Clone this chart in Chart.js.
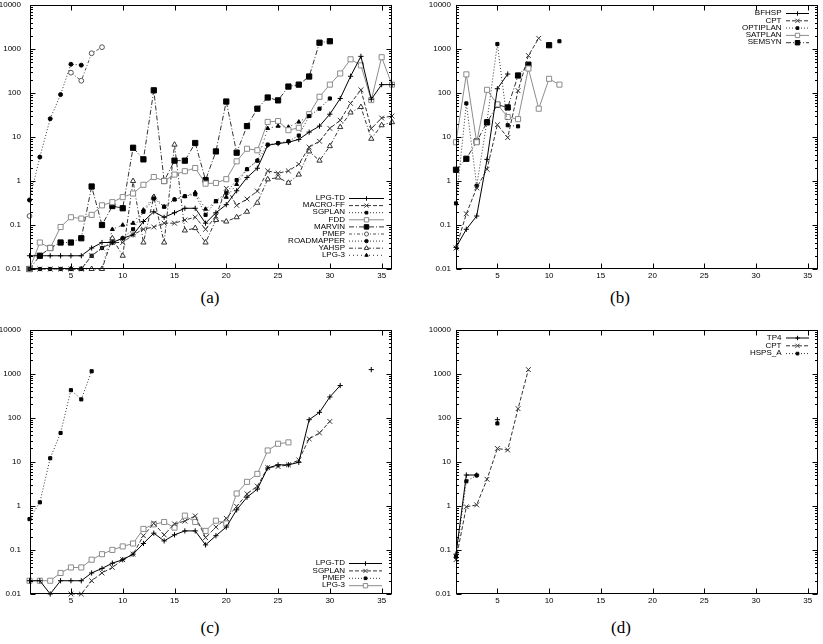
<!DOCTYPE html>
<html>
<head>
<meta charset="utf-8">
<script src="https://cdn.jsdelivr.net/npm/chart.js@4.4.0/dist/chart.umd.min.js"></script>
<style>
body{margin:0;background:#fff;width:823px;height:644px;position:relative;overflow:hidden}
canvas{position:absolute}
.cap{position:absolute;width:40px;margin-left:-20px;text-align:center;font-family:"Liberation Serif",serif;font-size:17px;line-height:20px;color:#000}
</style>
</head>
<body>
<canvas id="ca" width="410" height="285" style="left:0;top:0"></canvas>
<canvas id="cb" width="408" height="285" style="left:415px;top:0"></canvas>
<canvas id="cc" width="410" height="290" style="left:0;top:320px"></canvas>
<canvas id="cd" width="408" height="290" style="left:415px;top:320px"></canvas>
<div class="cap" style="left:210px;top:288px">(a)</div>
<div class="cap" style="left:620px;top:288px">(b)</div>
<div class="cap" style="left:210px;top:618px">(c)</div>
<div class="cap" style="left:621px;top:618px">(d)</div>
<script>
// axes
var xTicks=[5,10,15,20,25,30,35]
var yTicks=[0.01,0.1,1,10,100,1000,10000]

// panel (a), value for problem 1,2,3...
var aNames=["LPG-TD","MACRO-FF","SGPLAN","FDD","MARVIN","PMEP","ROADMAPPER","YAHSP","LPG-3"]
var aLpgTd=[0.02,0.02,0.02,0.02,0.02,0.02,0.03,0.04,0.04,0.05,0.06,0.12,0.2,0.15,0.19,0.24,0.24,0.11,0.19,0.29,0.6,1.2,1.95,6.5,7.1,7.6,8.8,12.9,17.7,33,75,240,680,72,155,155]
var aMacroFf=[0.01,0.01,0.01,0.01,0.01,0.01,0.02,0.03,0.04,0.04,0.06,0.08,0.09,0.11,0.11,0.13,0.15,0.08,0.16,0.68,0.28,0.39,0.59,1.7,1.5,1.7,2.4,5.9,8,15.7,24,58,118,15.5,27,30]
var aSgplan=[0.01,0.01,0.01,0.01,0.01,0.01,0.02,0.03,0.04,0.05,0.08,0.2,0.4,0.26,0.38,0.45,0.5,0.17,0.35,0.54,1.05,1.85,2.9,6.7,7.3,8,10.8,30,44,75]
var aFdd=[0.01,0.04,0.03,0.09,0.15,0.14,0.17,0.28,0.33,0.43,0.52,0.82,1.23,1.0,1.4,1.67,1.97,0.87,0.9,1.1,2.8,5.4,5.0,22,23,14.3,16.2,33,82,155,278,584,425,69,650,155]
var aMarvin=[0.01,0.02,0.03,0.04,0.04,0.05,0.75,0.1,0.27,0.24,5.7,3.1,115,1.0,2.9,2.9,7.3,1.05,4.7,64,4.4,17.7,44,79,68,140,155,237,1390,1500]
var aPmep=[0.16,null,null,null,290,190,800,1100]
var aRoadmapper=[0.37,3.5,26,92,450,430]
var aYahsp=[null,null,null,null,0.01,0.01,0.01,0.01,0.05,0.02,1.0,0.04,0.43,0.04,6.7,0.075,0.085,0.04,0.13,0.12,0.15,0.2,0.32,1.09,1.2,0.91,1.4,4.7,2.9,6.2,16.8,36,48,9.1,18.5,21.7]
var aLpg3=[null,null,null,null,null,null,null,0.01,0.08,0.1,0.11,0.22,0.45,0.26,0.38,0.45,0.55,0.23,0.34,0.43,0.84,1.85,2.9,15.7,17.7,16.8,22,30]

// panel (b)
var bNames=["BFHSP","CPT","OPTIPLAN","SATPLAN","SEMSYN"]
var bBfhsp=[0.031,0.08,0.16,3.1,125,270]
var bCpt=[0.03,0.18,0.7,1.85,19,9.7,113,710,1750]
var bOptiplan=[0.31,58,0.78,23,1300,18.5,17.5,null,null,null,1500]
var bSatplan=[7.6,265,7.6,118,55,28.5,25.5,360,44,210,155]
var bSemsyn=[1.8,3.2,7.9,21.5,54,47,250,440,null,1220]

// panel (c)
var cNames=["LPG-TD","SGPLAN","PMEP","LPG-3"]
var cLpgTd=[0.02,0.02,0.01,0.02,0.02,0.02,0.03,0.038,0.05,0.06,0.08,0.14,0.24,0.16,0.22,0.27,0.27,0.13,0.21,0.33,0.81,1.57,2.4,7.2,8.5,8.5,9.7,90,132,295,535,null,null,1230]
var cSgplan=[null,null,null,null,0.01,0.01,0.02,0.03,0.04,0.06,0.08,0.21,0.4,0.22,0.39,0.45,0.59,0.19,0.33,0.52,0.97,1.87,2.8,7.4,7.8,8.5,11,33,45,82]
var cPmep=[0.5,1.2,12,45,420,260,1130]
var cLpg3=[0.02,0.02,0.02,0.03,0.04,0.04,0.06,0.08,0.1,0.12,0.14,0.3,0.38,0.43,0.32,0.6,0.43,0.27,0.46,0.4,1.9,3.5,5.3,18,25.6,27.5]

// panel (d)
var dNames=["TP4","CPT","HSPS_A"]
var dTp4=[0.08,5.0,5.0,null,90]
var dCpt=[0.06,0.95,1.05,4.0,20,18.5,160,1230]
var dHspsA=[0.07,3.6,4.9,null,74]

// gnuplot like line types 1..9
var styles=[
  {dash:[],color:"#000",pt:"cross",r:2.6,fill:false},
  {dash:[4,2],color:"#333",pt:"crossRot",r:3.4,fill:false},
  {dash:[1,2],color:"#333",pt:"rect",r:2.2,fill:true},
  {dash:[],color:"#8c8c8c",pt:"rect",r:3.6,fill:false},
  {dash:[5,2,1,2],color:"#333",pt:"rect",r:3.7,fill:true},
  {dash:[3,2,1,2],color:"#555",pt:"circle",r:2.4,fill:false},
  {dash:[1,2],color:"#333",pt:"circle",r:2,fill:true},
  {dash:[4,2,1,2],color:"#333",pt:"triangle",r:3,fill:false},
  {dash:[1,3],color:"#333",pt:"triangle",r:2.3,fill:true}
]

function pts(vals){
  return vals.map(function(v,i){ return {x:i+1,y:v} })
}

function makeSets(names,series){
  return series.map(function(vals,i){
    var s=styles[i]
    return {
      label:names[i],
      data:pts(vals),
      borderColor:s.color,
      borderWidth:1,
      borderDash:s.dash,
      pointStyle:s.pt,
      pointRadius:s.r,
      pointBorderWidth:1,
      pointBorderColor:s.fill?"#000":s.color,
      pointBackgroundColor:s.fill?"#000":"#fff",
      tension:0,
      fill:false,
      clip:false,
      spanGaps:false,
      st:s
    }
  })
}

var frame={
  id:"frame",
  afterDraw:function(chart){
    var ctx=chart.ctx, a=chart.chartArea, x=chart.scales.x, y=chart.scales.y
    ctx.save()
    ctx.strokeStyle="#000"
    ctx.lineWidth=1
    ctx.setLineDash([])
    var L=Math.round(a.left)+0.5, R=Math.round(a.right)-0.5, T=Math.round(a.top)+0.5, B=Math.round(a.bottom)-0.5
    ctx.strokeRect(L,T,R-L,B-T)
    function seg(x0,y0,x1,y1){ ctx.beginPath(); ctx.moveTo(x0,y0); ctx.lineTo(x1,y1); ctx.stroke() }
    for(var k=0;k<yTicks.length;k++){
      var p=Math.round(y.getPixelForValue(yTicks[k]))+0.5
      seg(L,p,L+5,p); seg(R,p,R-5,p)
      if(k<yTicks.length-1){
        for(var m=2;m<10;m++){
          var q=Math.round(y.getPixelForValue(yTicks[k]*m))+0.5
          seg(L,q,L+2.5,q); seg(R,q,R-2.5,q)
        }
      }
    }
    for(var j=0;j<xTicks.length;j++){
      var px=Math.round(x.getPixelForValue(xTicks[j]))+0.5
      seg(px,B,px,B-5); seg(px,T,px,T+5)
    }
    ctx.restore()
  }
}

var keyBox={
  id:"keyBox",
  afterDraw:function(chart,args,o){
    var ctx=chart.ctx
    ctx.save()
    ctx.font="8px 'Liberation Sans', Arial, sans-serif"
    ctx.textAlign="right"
    ctx.textBaseline="middle"
    chart.data.datasets.forEach(function(ds,i){
      var yy=o.top+i*o.dy, s=ds.st
      ctx.fillStyle="#000"
      ctx.fillText(ds.label,o.right,yy)
      ctx.strokeStyle=s.color
      ctx.lineWidth=1
      ctx.setLineDash(s.dash)
      ctx.beginPath(); ctx.moveTo(o.x0,yy+0.5); ctx.lineTo(o.x1,yy+0.5); ctx.stroke()
      ctx.setLineDash([])
      ctx.strokeStyle=s.fill?"#000":s.color
      ctx.fillStyle=s.fill?"#000":"#fff"
      Chart.helpers.drawPoint(ctx,{pointStyle:s.pt,radius:s.r*0.85,borderWidth:1,rotation:0},(o.x0+o.x1)/2,yy+0.5)
    })
    ctx.restore()
  }
}

function makeChart(id,names,series,pad,yw,ypad,key){
  var tickFont={family:"'Liberation Sans', Arial, sans-serif",size:8}
  return new Chart(document.getElementById(id),{
    type:"line",
    data:{datasets:makeSets(names,series)},
    options:{
      responsive:false,
      animation:false,
      events:[],
      layout:{autoPadding:false,padding:{left:0,top:pad.top,right:pad.right,bottom:0}},
      plugins:{legend:{display:false},tooltip:{enabled:false},keyBox:key},
      scales:{
        x:{
          type:"linear",min:1,max:36,
          grid:{display:false,drawTicks:false},
          border:{display:false},
          ticks:{font:tickFont,color:"#000",padding:2,autoSkip:false,maxRotation:0},
          afterBuildTicks:function(s){ s.ticks=xTicks.map(function(v){return {value:v}}) },
          afterFit:function(s){ s.height=pad.xh; s.paddingLeft=0; s.paddingRight=0 }
        },
        y:{
          type:"logarithmic",min:0.01,max:10000,
          grid:{display:false,drawTicks:false},
          border:{display:false},
          ticks:{font:tickFont,color:"#000",padding:ypad,autoSkip:false,callback:function(v){return String(v)}},
          afterBuildTicks:function(s){ s.ticks=yTicks.map(function(v){return {value:v}}) },
          afterFit:function(s){ s.width=yw; s.paddingTop=0; s.paddingBottom=0 }
        }
      }
    },
    plugins:[frame,keyBox]
  })
}

makeChart("ca",aNames,[aLpgTd,aMacroFf,aSgplan,aFdd,aMarvin,aPmep,aRoadmapper,aYahsp,aLpg3],
  {top:5,right:18,xh:16},29.5,8.5,{right:345,top:198,dy:7.1,x0:349,x1:384})
makeChart("cb",bNames,[bBfhsp,bCpt,bOptiplan,bSatplan,bSemsyn],
  {top:5,right:5,xh:16},41,5,{right:366.5,top:13,dy:7.3,x0:371,x1:394})
makeChart("cc",cNames,[cLpgTd,cSgplan,cPmep,cLpg3],
  {top:9.5,right:18,xh:16},29.5,8.5,{right:345,top:243,dy:7.4,x0:349,x1:382})
makeChart("cd",dNames,[dTp4,dCpt,dHspsA],
  {top:9.5,right:5,xh:16},41,5,{right:366.5,top:17.5,dy:7.8,x0:371,x1:394})
</script>
</body>
</html>
